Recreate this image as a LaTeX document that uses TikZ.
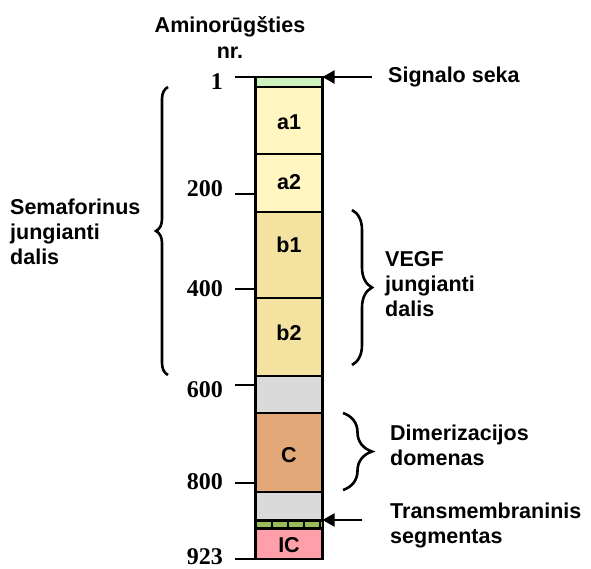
\documentclass[tikz,border=0pt]{standalone}
\usepackage{fontspec}
\setmainfont{Liberation Serif}
\setsansfont{Liberation Sans}
\usepackage{tikz}
\usetikzlibrary{arrows.meta,positioning,calc,decorations.pathreplacing}
\definecolor{psig}{HTML}{CCF2BE}
\definecolor{pyel}{HTML}{FFF6C2}
\definecolor{pyeld}{HTML}{F4E2A0}
\definecolor{pgrey}{HTML}{DADADA}
\definecolor{porange}{HTML}{E2A878}
\definecolor{ppink}{HTML}{FF9FAA}
\definecolor{dgreen}{HTML}{9BBB59}
\tikzset{
  seg/.style={draw=black,line width=2.2pt,minimum width=67pt,inner sep=0pt,outer sep=0pt},
  segtxt/.style={font=\sffamily\bfseries\fontsize{21.5}{25}\selectfont,inner sep=0pt},
  num/.style={font=\rmfamily\bfseries\fontsize{24}{26}\selectfont,anchor=east,inner sep=0pt},
  lbl/.style={font=\sffamily\bfseries\fontsize{21.5}{25}\selectfont,align=left,anchor=west,inner sep=0pt},
  tick/.style={line width=2.2pt},
  arr/.style={-{Triangle[length=12pt,width=13pt]},line width=2.2pt},
  brc/.style={decorate,decoration={brace,amplitude=#1},line width=2.6pt},
}
\begin{document}
\begin{tikzpicture}[x=1pt,y=-1pt]
\useasboundingbox (0,0) rectangle (591,568);
% title
\node[segtxt,align=center,font=\sffamily\bfseries\fontsize{21.5}{26}\selectfont] (title) at (230,37.5) {Aminorūgšties\\nr.};
% protein column
\foreach \n/\ta/\tb/\c/\t/\ty in {
  sig/77/87/psig//82,
  a1/87/154/pyel/a1/122.5,
  a2/154/212/pyel/a2/182.5,
  b1/212/298/pyeld/b1/245,
  b2/298/376/pyeld/b2/332.5,
  g1/376/413/pgrey//394.5,
  C/413/492/porange/C/455.5,
  g2/492/520/pgrey//506,
  tm/520/529/black//524.5,
  IC/529/559/ppink/IC/545}{
  \node[seg,fill=\c,minimum height={\tb-\ta}] (\n) at (289,{(\ta+\tb)/2}) {};
  \node[segtxt] (\n-t) at (289,\ty) {\t};}
% transmembrane dashes
\draw[dgreen,line width=5pt,dash pattern=on 13.6pt off 2.4pt,shorten <=1.4pt,shorten >=1.4pt] (tm.west) -- (tm.east);
% residue numbers
\foreach \v/\y/\ny/\s in {1/77/81.5/sig, 200/194/188.5/a2, 400/289/289/b1, 600/385/390/g1, 800/483/481.5/C, 923/559/557/IC}{
  \node[num] (n\v) at (223,\ny) {\v};
  \coordinate (t\v) at (235,\y);
  \draw[tick] (t\v) -- (t\v -| \s.west);}
% arrows
\coordinate (sigtail) at (372,77);
\coordinate (tmtail) at (362,520);
\draw[arr] (sigtail) -- (sig.north east);
\draw[arr] (tmtail) -- (tm.north east);
\node[lbl,anchor=base west] (siglbl) at (388,82) {Signalo seka};
\node[lbl] (tmlbl) at (390,525) {Transmembraninis\\segmentas};
% braces
\draw[brc=12pt] (168,375) -- (168,87);
\draw[brc=20pt] (352,210) -- (352,365);
\draw[brc=29pt] (343,413) -- (343,490);
\node[lbl] (semlbl) at (10,231.5) {Semaforinus\\jungianti\\dalis};
\node[lbl] (vegflbl) at (385,284) {VEGF\\jungianti\\dalis};
\node[lbl] (dimlbl) at (390,445) {Dimerizacijos\\domenas};
\end{tikzpicture}
\end{document}
